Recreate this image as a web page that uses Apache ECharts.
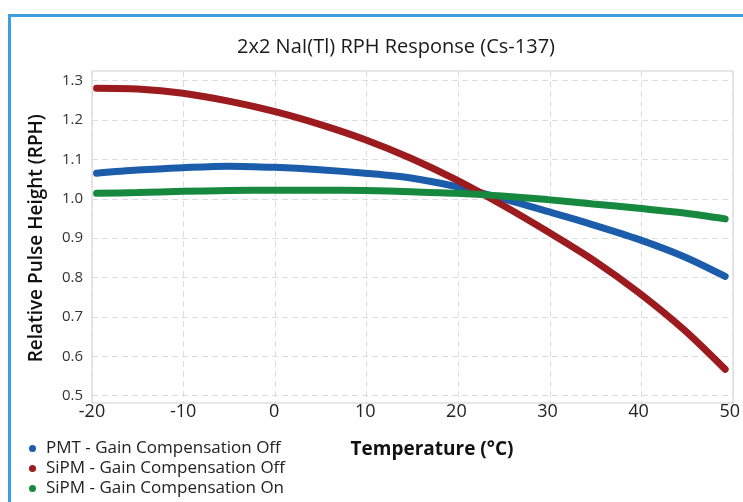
<!DOCTYPE html>
<html>
<head>
<meta charset="utf-8">
<script src="https://cdn.jsdelivr.net/npm/echarts@6/dist/echarts.min.js"></script>
<style>html,body{margin:0;padding:0;background:#fff}#c{width:743px;height:502px}</style>
</head>
<body>
<div id="c"></div>
<script>
const temperatures = [-19.5, -15, -10, -5, 0, 5, 10, 15, 20, 25, 30, 35, 40, 45, 49.5];
const pmtOff  = [1.065, 1.073, 1.079, 1.083, 1.080, 1.074, 1.065, 1.053, 1.031, 1.001, 0.968, 0.934, 0.897, 0.853, 0.803];
const sipmOff = [1.281, 1.279, 1.268, 1.248, 1.222, 1.189, 1.150, 1.103, 1.048, 0.985, 0.917, 0.845, 0.762, 0.667, 0.567];
const sipmOn  = [1.014, 1.016, 1.019, 1.021, 1.022, 1.022, 1.021, 1.018, 1.014, 1.007, 0.998, 0.987, 0.976, 0.964, 0.949];
const seriesNames = ['PMT - Gain Compensation Off', 'SiPM - Gain Compensation Off', 'SiPM - Gain Compensation On'];
const colors = ['#1b5cab', '#9b1b1e', '#16893f'];
const yTicks = [0.5, 1.3, 0.1];
const xTicks = [-20, 50, 10];

const FONT = '"Open Sans"';
const chart = echarts.init(document.getElementById('c'));
const pair = arr => temperatures.map((t, i) => [t, arr[i]]);
const mk = (name, arr, color) => ({
  name, type: 'line', xAxisIndex: 1, yAxisIndex: 1, data: pair(arr),
  smooth: 0.3, showSymbol: false, symbol: 'circle',
  lineStyle: { width: 7, color, cap: 'round' }, itemStyle: { color }
});
chart.setOption({
  animation: false,
  textStyle: { fontFamily: FONT },
  title: {
    text: '2x2 NaI(Tl) RPH Response (Cs-137)',
    left: 391, top: 32, textAlign: 'center',
    textStyle: { fontFamily: FONT, fontSize: 20, fontWeight: 'normal', color: '#1a1a1a' }
  },
  graphic: [
    { type: 'rect', left: 7, top: 13, shape: { width: 800, height: 600 },
      style: { fill: 'none', stroke: '#3d9fe0', lineWidth: 3 }, silent: true },
    { type: 'text', x: 432, y: 450, style: { text: 'Temperature (°C)', align: 'center', verticalAlign: 'middle',
      font: 'bold 19px ' + FONT, fill: '#111' } }
  ],
  legend: {
    orient: 'vertical', left: 24, top: 435, height: 70, itemGap: 3,
    icon: 'circle', itemWidth: 7, itemHeight: 7,
    data: seriesNames,
    textStyle: { fontFamily: FONT, fontSize: 17, color: '#222', padding: [0, 0, 0, 5] }
  },
  grid: [
    { left: 92, right: 10, top: 71, bottom: 99, show: true, borderColor: '#cfcfcf', borderWidth: 1 },
    { left: 92, right: 10, top: 80.7, bottom: 106.3 }
  ],
  xAxis: [
    { gridIndex: 0, type: 'value', min: xTicks[0], max: xTicks[1], interval: xTicks[2],
      axisLine: { show: false }, axisTick: { show: false }, axisLabel: { show: false },
      splitLine: { show: true, lineStyle: { type: [6, 4], color: '#dcdcdc', width: 1 } } },
    { gridIndex: 1, type: 'value', min: xTicks[0], max: xTicks[1], interval: xTicks[2],
      axisLine: { show: false }, axisTick: { show: false }, splitLine: { show: false },
      axisLabel: { fontFamily: FONT, fontSize: 18, color: '#222', margin: 7 } }
  ],
  yAxis: [
    { gridIndex: 0, type: 'value', min: 0, max: 1, show: false },
    { gridIndex: 1, type: 'value', min: yTicks[0], max: yTicks[1], interval: yTicks[2],
      axisLine: { show: false }, axisTick: { show: false },
      axisLabel: { fontFamily: FONT, fontSize: 15, color: '#333', margin: 9, formatter: v => v.toFixed(1) },
      splitLine: { show: true, lineStyle: { type: [6, 4], color: '#dcdcdc', width: 1 } },
      name: 'Relative Pulse Height (RPH)', nameLocation: 'middle', nameGap: 46,
      nameTextStyle: { fontFamily: FONT, fontSize: 19, fontWeight: 600, color: '#111' } }
  ],
  series: [
    mk(seriesNames[0], pmtOff, colors[0]),
    mk(seriesNames[1], sipmOff, colors[1]),
    mk(seriesNames[2], sipmOn, colors[2])
  ]
});
</script>
</body>
</html>
